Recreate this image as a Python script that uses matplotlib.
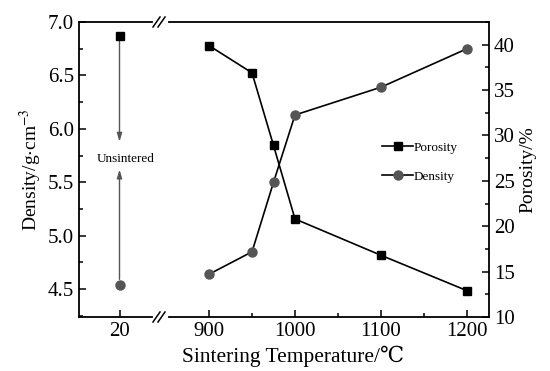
import matplotlib
matplotlib.use('Agg')
import matplotlib.pyplot as plt
from matplotlib.lines import Line2D
from matplotlib.ticker import MultipleLocator, FixedLocator, FormatStrFormatter

plt.rcParams['font.family'] = ['Liberation Serif', 'DejaVu Serif']
plt.rcParams['mathtext.fontset'] = 'stix'

# データ
temp_raw = [20]
density_raw = [4.54]
porosity_raw = [41.0]

temps = [900, 950, 975, 1000, 1100, 1200]
density = [4.64, 4.85, 5.50, 6.13, 6.39, 6.75]
porosity = [39.9, 36.9, 28.9, 20.8, 16.8, 12.9]

W, H = 550, 371
fig = plt.figure(figsize=(5.5, 3.71), dpi=100)

def box(x0, x1, y0=22, y1=317):
    return [x0 / W, 1 - y1 / H, (x1 - x0) / W, (y1 - y0) / H]

axL = fig.add_axes(box(79, 160))
axR = fig.add_axes(box(160, 489))
tL = axL.twinx()
tR = axR.twinx()

for a in (axL, axR):
    a.set_ylim(4.24, 7.0)
for a in (tL, tR):
    a.set_ylim(10, 42.5)
axL.set_xlim(10, 30)
axR.set_xlim(843, 1225.6)

grey = '#555555'
# 焼結前
axL.plot(temp_raw, density_raw, 'o', color=grey, ms=6.5, zorder=5, clip_on=False)
tL.plot(temp_raw, porosity_raw, 's', color='black', ms=5.8, zorder=5, clip_on=False)

# 焼結後
ld, = axR.plot(temps, density, '-o', color='black', lw=1.2, ms=6.5,
               mfc=grey, mec=grey, label='Density')
lp, = tR.plot(temps, porosity, '-s', color='black', lw=1.2, ms=5.8,
              mfc='black', mec='black', label='Porosity')

tR.legend(handles=[lp, ld], loc='center left', bbox_to_anchor=(0.66, 0.525),
          frameon=False, fontsize=9.5, handlelength=2.3, handletextpad=0.05,
          labelspacing=1.25, borderaxespad=0)

# 矢印と注記
arrow = dict(arrowstyle='-|>,head_length=0.5,head_width=0.15', color=grey, lw=1.0,
             shrinkA=4, shrinkB=0)
axL.annotate('', xy=(20, 5.88), xytext=(20, 6.87), arrowprops=arrow)
axL.annotate('', xy=(20, 5.62), xytext=(20, 4.54), arrowprops=arrow)
axL.text(21.6, 5.72, 'Unsintered', ha='center', va='center', fontsize=9.5)

tick_fs = 15
# スパイン
axL.spines['right'].set_visible(False)
axR.spines['left'].set_visible(False)
axR.spines['right'].set_visible(False)
for s in tL.spines.values():
    s.set_visible(False)
tR.spines['left'].set_visible(False)
tR.spines['top'].set_visible(False)
tR.spines['bottom'].set_visible(False)
for a in (axL, axR, tR):
    for s in a.spines.values():
        s.set_linewidth(1.3)

# 目盛り
axL.set_yticks([4.5, 5.0, 5.5, 6.0, 6.5, 7.0])
axL.yaxis.set_minor_locator(MultipleLocator(0.25))
axL.yaxis.set_major_formatter(FormatStrFormatter('%.1f'))
axL.xaxis.set_major_locator(FixedLocator(temp_raw))
axL.tick_params(axis='both', which='both', direction='in', labelsize=tick_fs, width=1.1)
axL.tick_params(which='major', length=5)
axL.tick_params(which='minor', length=3)
axL.tick_params(axis='x', which='minor', bottom=False)

axR.set_xticks([900, 1000, 1100, 1200])
axR.xaxis.set_minor_locator(FixedLocator([950, 1050, 1150]))
axR.tick_params(axis='x', which='both', direction='in', labelsize=tick_fs, width=1.1)
axR.tick_params(axis='x', which='major', length=5)
axR.tick_params(axis='x', which='minor', length=3)
axR.tick_params(axis='y', which='both', left=False, labelleft=False)

tL.tick_params(axis='y', which='both', right=False, labelright=False)
tR.set_yticks([10, 15, 20, 25, 30, 35, 40])
tR.yaxis.set_minor_locator(MultipleLocator(2.5))
tR.tick_params(axis='y', which='both', direction='in', labelsize=tick_fs, width=1.1)
tR.tick_params(axis='y', which='major', length=5)
tR.tick_params(axis='y', which='minor', length=3)

# ラベル
axL.set_ylabel(r'Density/g$\cdot$cm$^{-3}$', fontsize=14, labelpad=3)
tR.set_ylabel('Porosity/%', fontsize=14, labelpad=3)
fig.text(293 / W, 1 - 356 / H, 'Sintering Temperature/℃', ha='center', va='center', fontsize=15.5)

# 軸の切れ目
def brk(y):
    fig.add_artist(Line2D([155 / W, 166 / W], [1 - y / H, 1 - y / H], color='white', lw=3,
                          transform=fig.transFigure, zorder=10))
    for dx in (0, 5):
        fig.add_artist(Line2D([(153 + dx) / W, (160 + dx) / W], [1 - (y + 5) / H, 1 - (y - 5) / H],
                              color='black', lw=1.1, transform=fig.transFigure, zorder=11))

brk(22)
brk(317)

fig.savefig('out.png', dpi=100)
